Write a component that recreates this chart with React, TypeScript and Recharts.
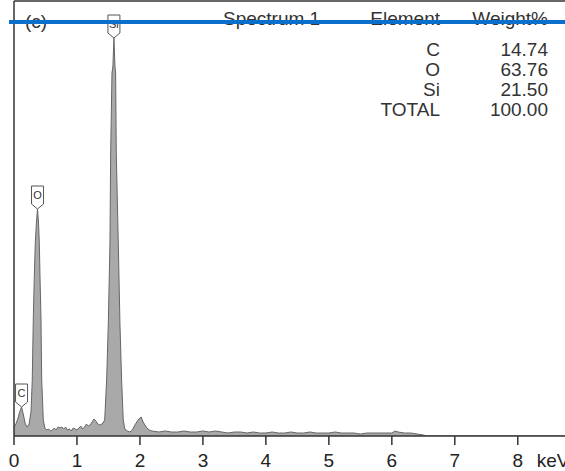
import { ComposedChart, Area, XAxis, YAxis, ReferenceDot, ReferenceLine } from "recharts";

// EDS spectrum, energy in keV vs counts (arbitrary)
const energy = [
  0, 0.03, 0.06, 0.09, 0.12, 0.15, 0.18, 0.21, 0.24, 0.27, 0.29, 0.306, 0.322, 0.338, 0.357, 0.373,
  0.389, 0.402, 0.413, 0.429, 0.44, 0.465, 0.49, 0.52, 0.55, 0.58, 0.61, 0.64, 0.67, 0.7, 0.73, 0.76,
  0.79, 0.82, 0.85, 0.88, 0.91, 0.94, 0.97, 1.0, 1.03, 1.06, 1.09, 1.12, 1.15, 1.18, 1.21, 1.24, 1.27,
  1.3, 1.33, 1.36, 1.4, 1.44, 1.471, 1.497, 1.524, 1.535, 1.556, 1.571, 1.587, 1.603, 1.614, 1.624,
  1.656, 1.683, 1.709, 1.735, 1.76, 1.8, 1.84, 1.88, 1.92, 1.96, 2.0, 2.02, 2.05, 2.08, 2.11, 2.15,
  2.19, 2.3, 2.4, 2.5, 2.6, 2.7, 2.8, 2.9, 3.0, 3.1, 3.2, 3.3, 3.4, 3.5, 3.6, 3.7, 3.8, 3.9, 4.0, 4.1,
  4.2, 4.3, 4.4, 4.5, 4.6, 4.7, 4.8, 4.9, 5.0, 5.1, 5.2, 5.3, 5.4, 5.5, 5.6, 5.7, 5.8, 5.9, 6.0, 6.05,
  6.1, 6.2, 6.3, 6.4, 6.5, 6.55, 8.75,
];
const counts = [
  9, 12, 17, 24, 29, 21, 12, 9, 12, 24, 56, 116, 159, 193, 214, 227,
  214, 193, 159, 116, 56, 16, 8, 6, 7, 5, 6, 8, 6, 9, 8, 9,
  7, 9, 6, 7, 5, 8, 7, 6, 8, 10, 7, 9, 12, 10, 11, 14, 17,
  15, 12, 11, 12, 16, 56, 111, 193, 283, 363, 370, 398, 370, 363, 283,
  193, 111, 56, 16, 7, 5, 4, 6, 11, 15, 18, 19, 14, 11, 8, 6,
  5, 4, 5, 4, 4, 5, 4, 4, 5, 4, 5, 4, 3, 4, 4, 3, 4, 3, 3, 4,
  3, 3, 4, 3, 3, 4, 3, 3, 3, 4, 3, 3, 3, 2, 3, 3, 3, 3, 3, 5,
  4, 3, 3, 2, 1, 0, 0,
];
const xTicks = [0, 1, 2, 3, 4, 5, 6, 7, 8];

// peak markers
const peakElements = ["C", "O", "Si"];
const peakEnergy = [0.12, 0.373, 1.587];
const peakCounts = [29, 227, 398];

// quantification table
const tableElements = ["C", "O", "Si"];
const tableWeights = ["14.74", "63.76", "21.50"];
const tableTotal = "100.00";

const data = energy.map((e, i) => ({ e, c: counts[i] }));
const FONT = "Arial, 'Liberation Sans', sans-serif";

function Marker({ cx, cy, text }: { cx: number; cy: number; text: string }) {
  const w = 12;
  const top = cy - 23;
  const d = `M${cx - w / 2},${top} H${cx + w / 2} V${cy - 5} L${cx},${cy} L${cx - w / 2},${cy - 5} Z`;
  return (
    <g>
      <path d={d} fill="#fff" stroke="#555" strokeWidth={1} />
      <text x={cx} y={top + 13} textAnchor="middle" fontSize={11} fontFamily={FONT} fill="#333">
        {text}
      </text>
    </g>
  );
}

function Tick({ x, y, payload }: any) {
  return (
    <g>
      <text x={x} y={y} dy="0.71em" textAnchor="middle" fontSize={19} fontFamily={FONT} fill="#222">
        {payload.value}
      </text>
      {payload.value === 8 && (
        <text x={x + 19} y={y} dy="0.71em" textAnchor="start" fontSize={19} fontFamily={FONT} fill="#222">
          keV
        </text>
      )}
    </g>
  );
}

export default function App() {
  return (
    <div style={{ position: "absolute", left: 0, top: 0, width: 565, height: 471, background: "#fff", overflow: "hidden" }}>
      <ComposedChart width={565} height={471} data={data} margin={{ top: 1, right: 0, bottom: 0, left: 14 }}>
        <XAxis
          dataKey="e"
          type="number"
          domain={[0, 8.75]}
          ticks={xTicks}
          height={35}
          tickSize={9}
          tickMargin={9}
          axisLine={{ stroke: "#333", strokeWidth: 1.5 }}
          tickLine={{ stroke: "#333", strokeWidth: 1.5 }}
          tick={<Tick />}
          allowDataOverflow
        />
        <YAxis type="number" domain={[0, 435]} hide allowDataOverflow />
        <Area
          type="linear"
          dataKey="c"
          stroke="#666"
          strokeWidth={1}
          fill="#a9a9a9"
          fillOpacity={1}
          dot={false}
          activeDot={false}
          isAnimationActive={false}
        />
        <ReferenceLine x={0} stroke="#333" strokeWidth={1.5} />
        <ReferenceLine y={435} stroke="#333" strokeWidth={1.5} />
        {peakElements.map((el, i) => (
          <ReferenceDot
            key={el}
            x={peakEnergy[i]}
            y={peakCounts[i]}
            shape={(p: any) => <Marker cx={p.cx} cy={p.cy} text={el} />}
          />
        ))}
      </ComposedChart>
      <svg width={565} height={471} style={{ position: "absolute", left: 0, top: 0, pointerEvents: "none" }}>
        <g fontFamily={FONT} fontSize={19} fill="#333">
          <text x={25} y={28}>(c)</text>
          <text x={223} y={25}>Spectrum 1</text>
          <text x={440} y={25} textAnchor="end">Element</text>
          <text x={548} y={25} textAnchor="end">Weight%</text>
          {tableElements.map((el, i) => (
            <g key={el}>
              <text x={440} y={56 + i * 20} textAnchor="end">{el}</text>
              <text x={548} y={56 + i * 20} textAnchor="end">{tableWeights[i]}</text>
            </g>
          ))}
          <text x={440} y={116} textAnchor="end">TOTAL</text>
          <text x={548} y={116} textAnchor="end">{tableTotal}</text>
        </g>
        <rect x={9} y={20} width={556} height={4} fill="#0a70cc" />
      </svg>
    </div>
  );
}
